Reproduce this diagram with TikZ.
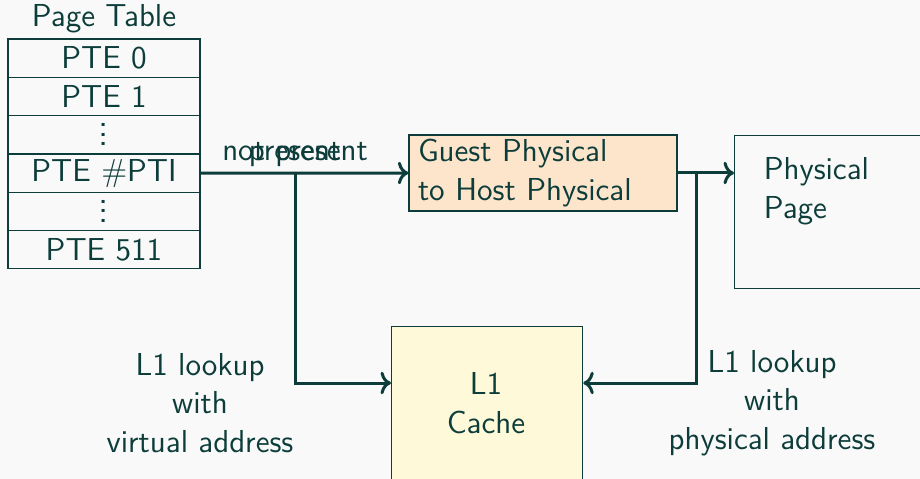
\documentclass[tikz,border=0pt]{standalone}
\usetikzlibrary{calc,arrows.meta}
\definecolor{ink}{RGB}{13,61,58}
\definecolor{bg}{RGB}{249,249,249}
\definecolor{peach}{RGB}{253,229,204}
\definecolor{cream}{RGB}{254,249,216}
\newcommand{\mydots}{{\fontsize{15}{15}\selectfont\vbox{\baselineskip=3.8pt\lineskiplimit=-5pt\hbox{.}\hbox{.}\hbox{.}}}}
\begin{document}
\begin{tikzpicture}[x=0.4pt,y=-0.4pt,
  font=\sffamily\fontsize{12.7}{15.5}\selectfont, text=ink,
  cell/.style={draw=ink, line width=0.5pt, minimum width=76.8pt, minimum height=15.32pt, inner sep=0pt},
  box/.style={draw=ink, line width=0.5pt},
  arr/.style={draw=ink, line width=1.2pt, -{To[length=4.2pt,width=9pt]}},
  lbl/.style={align=center}]
\useasboundingbox (0,0) rectangle (920,479);
\fill[bg] (0,0) rectangle (920,479);
\clip (0,0) rectangle (920,479);

\node (title) at (104,19) {Page Table};
\node[cell] (r0) at (104,58.2) {PTE 0};
\node[cell] (r1) at (104,96.5) {PTE 1};
\node[cell] (r2) at (104,134.8) {\mydots};
\node[cell] (r3) at (104,173.1) {PTE \#PTI};
\node[cell] (r4) at (104,211.4) {\mydots};
\node[cell] (r5) at (104,249.7) {PTE 511};

\node[box, fill=peach, minimum width=107.2pt, minimum height=30.4pt, text width=100pt, inner xsep=3.2pt, inner ysep=0pt, align=left] (guest) at (543,173) {Guest Physical\\to Host Physical};

\node[box, anchor=north west, minimum width=82.4pt, minimum height=61.2pt, inner sep=0pt] (phys) at (734,135) {};
\node[anchor=west, align=left] (physt) at (755,191) {Physical\\Page};

\node[box, fill=cream, anchor=north west, minimum width=76.4pt, minimum height=80pt, inner sep=0pt] (l1) at (391,326) {};
\node[lbl] (l1t) at (486,403) {L1\\Cache};

\node[lbl] (lv) at (200,403) {L1 lookup\\with\\virtual address};
\node[lbl] (lp) at (772,403) {L1 lookup\\with\\physical address};

\node[anchor=base] (np) at (295,160) {not present};
\node[anchor=base] (pr) at (295,160) {present};

\coordinate (j1) at (295,173);
\coordinate (j2) at (696,173);
\draw[arr] (r3.east) -- (guest.west);
\draw[arr] (j1) |- ($(l1.north west)+(0,57)$);
\draw[arr] (guest.east) -- (phys.west |- guest.east);
\draw[arr] (j2) |- ($(l1.north east)+(0,57)$);
\end{tikzpicture}
\end{document}
